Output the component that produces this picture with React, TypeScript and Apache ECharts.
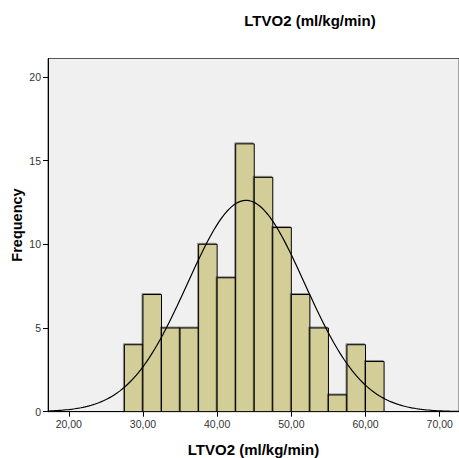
import React, { useEffect, useRef } from "react";
import * as echarts from "echarts";

// Histogram bins (lower edge of each 2.5-wide bin) and their counts
const binStarts = [27.5, 30, 32.5, 35, 37.5, 40, 42.5, 45, 47.5, 50, 52.5, 55, 57.5, 60];
const counts = [4, 7, 5, 5, 10, 8, 16, 14, 11, 7, 5, 1, 4, 3];
const binWidth = 2.5;

// Fitted normal curve parameters
const curveMean = 43.9;
const curveSd = 7.9;

const xTicks = [20, 30, 40, 50, 60, 70];
const yTicks = [0, 5, 10, 15, 20];

const X_MIN = 17.2;
const X_MAX = 72.6;
const Y_MAX = 21.1;

const fmt = (v: number) => v.toFixed(2).replace(".", ",");

export default function App() {
  const ref = useRef<HTMLDivElement>(null);

  useEffect(() => {
    if (!ref.current) return;
    const chart = echarts.init(ref.current, undefined, { renderer: "svg" });

    const total = counts.reduce((a, b) => a + b, 0);
    const curve: number[][] = [];
    const steps = 200;
    for (let i = 0; i <= steps; i++) {
      const x = X_MIN + ((X_MAX - X_MIN) * i) / steps;
      const z = (x - curveMean) / curveSd;
      const y = (total * binWidth * Math.exp(-0.5 * z * z)) / (curveSd * Math.sqrt(2 * Math.PI));
      curve.push([x, y]);
    }

    const barData = binStarts.map((s, i) => [s, s + binWidth, counts[i]]);

    chart.setOption({
      animation: false,
      textStyle: { fontFamily: "Liberation Sans, Arial, sans-serif" },
      title: {
        text: "LTVO2 (ml/kg/min)",
        left: 305,
        textAlign: "center",
        top: 8,
        textStyle: { fontSize: 15, fontWeight: "bold", color: "#000" },
      },
      graphic: [
        {
          type: "text",
          x: 17,
          y: 225,
          rotation: Math.PI / 2,
          style: {
            text: "Frequency",
            fontSize: 14.5,
            fontWeight: "bold",
            fill: "#000",
            fontFamily: "Liberation Sans, Arial, sans-serif",
            align: "center",
            verticalAlign: "middle",
          },
        },
      ],
      grid: {
        left: 48,
        top: 58.5,
        right: 0,
        bottom: 46.3,
        outerBoundsMode: "none",
        containLabel: false,
        show: true,
        backgroundColor: "#f0f0f0",
        borderColor: "#555",
        borderWidth: 1,
      },
      xAxis: {
        type: "value",
        min: X_MIN,
        max: X_MAX,
        name: "LTVO2 (ml/kg/min)",
        nameLocation: "middle",
        nameGap: 30,
        nameTextStyle: { fontSize: 15, fontWeight: "bold", color: "#000" },
        splitLine: { show: false },
        axisLine: { show: true, lineStyle: { color: "#000", width: 1 } },
        axisTick: { show: true, customValues: xTicks, length: 5, lineStyle: { color: "#000" } },
        axisLabel: {
          customValues: xTicks,
          formatter: (v: number) => fmt(v),
          fontSize: 10.5,
          color: "#333",
          margin: 7,
        },
      },
      yAxis: {
        type: "value",
        min: 0,
        max: Y_MAX,
        splitLine: { show: false },
        axisLine: { show: true, lineStyle: { color: "#000", width: 1 } },
        axisTick: { show: true, customValues: yTicks, length: 5, lineStyle: { color: "#000" } },
        axisLabel: { customValues: yTicks, fontSize: 10.5, color: "#333", margin: 7 },
      },
      series: [
        {
          type: "custom",
          data: barData,
          clip: true,
          renderItem: (params: any, api: any) => {
            const p0 = api.coord([api.value(0), api.value(2)]);
            const p1 = api.coord([api.value(1), 0]);
            return {
              type: "rect",
              shape: { x: p0[0], y: p0[1], width: p1[0] - p0[0], height: p1[1] - p0[1] },
              style: {
                fill: "#d3ce98",
                stroke: "#000",
                lineWidth: 1,
                shadowColor: "rgba(0,0,0,0.4)",
                shadowOffsetX: -1,
                shadowOffsetY: -1,
                shadowBlur: 1,
              },
            };
          },
          z: 2,
        },
        {
          type: "line",
          data: curve,
          showSymbol: false,
          smooth: false,
          lineStyle: { color: "#000", width: 1.2 },
          z: 3,
        },
      ],
    });

    return () => chart.dispose();
  }, []);

  return <div ref={ref} style={{ width: 459, height: 458, position: "absolute", left: 0, top: 0 }} />;
}
